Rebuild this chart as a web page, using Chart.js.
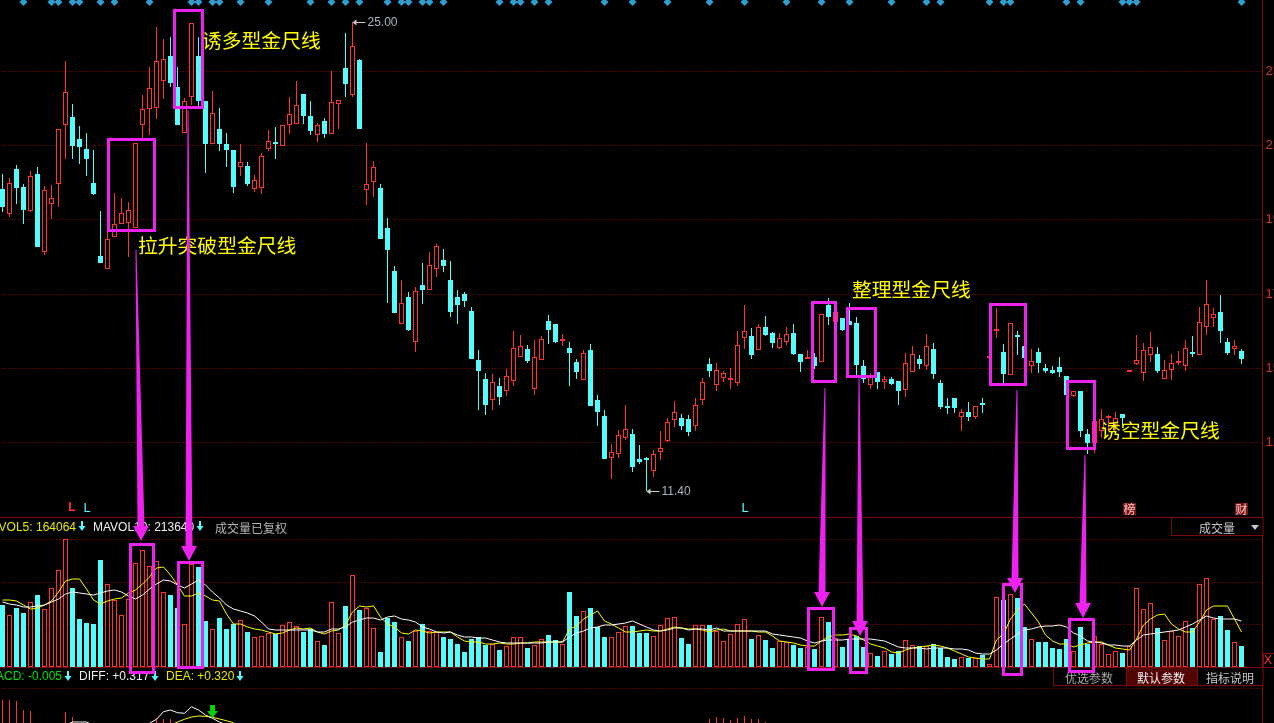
<!DOCTYPE html>
<html>
<head>
<meta charset="utf-8">
<title>金尺线</title>
<style>
  html, body { margin: 0; padding: 0; background: #000; overflow: hidden; }
  canvas { display: block; }
</style>
<script src="https://cdn.jsdelivr.net/npm/chart.js@4/dist/chart.umd.min.js"></script>
</head>
<body>
<canvas id="kline" width="1274" height="723"></canvas>
<script>
// daily prices
const highs = [
  20.59,20.48,20.86,20.30,20.68,20.80,20.25,20.28,21.90,23.87,
  22.62,21.99,21.78,21.29,19.52,18.97,20.04,19.90,19.78,21.49,
  22.89,23.70,24.86,24.51,24.57,23.70,22.80,24.97,24.57,22.71,
  23.00,22.51,21.78,21.29,21.46,20.94,20.57,21.20,21.87,21.96,
  22.02,22.83,23.29,22.91,22.71,22.07,22.22,23.58,22.74,24.68,
  25.00,23.93,21.49,20.97,20.30,19.32,17.93,17.52,17.17,17.32,
  18.01,18.33,18.56,18.42,18.07,17.23,17.17,16.74,15.49,14.82,
  14.79,14.68,14.94,16.04,15.93,15.64,15.78,15.90,16.51,16.24,
  15.95,15.72,15.23,15.49,15.66,14.19,13.75,12.76,13.17,13.90,
  13.20,12.74,12.39,12.59,13.14,13.52,14.01,13.63,13.61,14.10,
  14.68,15.26,15.11,14.88,14.97,16.04,16.80,16.13,16.24,16.48,
  16.01,15.98,16.16,16.24,15.37,15.49,15.40,16.53,17.00,16.59,
  16.42,16.85,16.45,15.20,14.82,14.85,14.74,14.71,14.59,15.40,
  15.61,15.35,15.95,15.69,14.62,14.10,14.10,13.78,13.98,13.87,
  14.10,15.29,16.71,15.66,16.27,16.04,15.61,15.52,15.55,15.08,
  15.03,15.29,14.74,14.30,14.30,13.20,13.43,13.78,13.61,13.69,
  13.63,14.88,15.93,15.69,16.01,15.58,15.20,15.37,15.46,15.78,
  15.90,16.74,17.52,16.71,17.09,15.84,15.78,15.52
];
const lows = [
  19.49,19.35,19.72,19.14,19.49,18.48,18.25,19.29,19.64,21.03,
  21.03,20.88,20.54,19.99,18.01,17.84,18.77,19.14,18.19,19.03,
  21.64,21.73,22.19,22.77,23.12,22.02,21.78,22.60,22.57,20.62,
  21.46,21.26,20.80,20.04,20.54,20.25,20.07,20.01,21.26,21.03,
  21.41,21.75,22.04,22.04,21.73,21.52,21.64,21.75,21.90,22.83,
  22.83,21.90,19.70,19.93,18.71,16.85,16.56,16.24,16.04,15.43,
  16.82,17.23,17.61,17.75,16.45,16.24,16.74,15.23,13.75,13.61,
  13.75,13.90,14.16,14.45,15.29,15.11,14.19,15.20,15.66,15.69,
  15.61,14.45,14.65,14.62,13.87,13.29,12.33,11.75,12.36,12.88,
  11.95,12.18,11.40,11.81,12.30,12.82,13.26,13.17,13.00,13.14,
  13.90,14.71,14.30,14.56,14.36,14.45,15.52,15.23,15.49,15.90,
  15.55,15.52,15.64,15.35,14.85,15.23,14.94,15.14,16.22,16.30,
  16.04,16.22,14.74,14.53,14.36,14.36,14.36,14.48,13.90,14.13,
  14.85,14.94,14.91,14.65,13.78,13.63,13.66,13.14,13.43,13.49,
  13.66,15.26,15.84,14.53,14.77,15.35,15.26,14.82,14.82,14.82,
  14.79,14.71,14.19,14.13,12.97,12.47,12.50,12.94,13.17,13.17,
  13.32,14.85,15.06,14.59,15.14,14.82,14.65,14.62,15.06,14.88,
  15.29,15.35,15.93,16.16,15.69,15.35,15.35,15.08
];
const opens = [
  20.16,19.43,20.74,20.22,19.52,20.59,18.33,19.72,20.30,22.02,
  22.25,21.61,21.32,20.33,18.22,17.84,18.77,19.14,19.17,19.03,
  22.02,22.48,22.51,23.29,24.02,23.12,21.78,22.83,24.02,22.71,
  21.46,21.90,21.46,21.29,20.80,20.83,20.16,20.19,21.32,21.52,
  21.41,22.02,22.04,22.91,22.28,21.73,22.13,21.75,22.62,23.67,
  22.89,23.90,20.13,20.36,20.19,19.03,17.78,16.24,17.03,15.72,
  17.38,17.23,17.84,18.10,17.52,17.03,17.11,16.62,15.20,14.65,
  14.04,14.45,14.30,14.59,15.29,15.52,14.36,15.20,16.33,16.24,
  15.75,15.55,15.14,14.62,15.49,14.04,13.58,12.36,12.47,12.94,
  13.05,12.33,12.33,11.98,12.53,12.85,13.46,13.52,13.49,13.29,
  14.04,15.08,14.48,14.68,14.62,14.53,15.84,15.90,15.49,16.16,
  15.98,15.55,15.72,15.98,15.37,15.23,15.29,15.14,16.80,16.30,
  16.42,16.33,16.27,15.03,14.48,14.85,14.56,14.65,14.59,14.33,
  14.85,15.23,15.03,15.52,14.53,13.84,14.10,13.55,13.69,13.55,
  13.92,15.26,16.04,15.43,14.77,15.93,15.61,15.03,15.43,14.97,
  14.91,15.00,14.74,14.16,14.30,13.05,12.79,13.14,13.52,13.32,
  13.63,14.85,15.08,14.82,15.35,15.37,14.65,14.91,15.11,15.03,
  15.40,15.35,16.16,16.42,16.59,15.72,15.52,15.46
];
const closes = [
  19.64,20.33,20.19,19.55,20.54,18.48,20.13,19.90,21.90,22.97,
  21.41,21.38,21.03,20.01,18.01,18.71,19.14,19.46,19.55,21.49,
  22.48,23.09,23.87,23.93,23.23,22.02,22.71,24.97,22.71,21.46,
  22.36,21.46,21.29,20.22,20.94,20.30,20.42,21.12,21.55,21.46,
  22.02,22.33,22.60,22.28,21.84,22.02,21.75,22.68,22.74,23.20,
  24.31,21.90,20.30,20.80,18.71,18.39,16.56,16.85,16.07,17.20,
  17.23,17.96,18.51,17.93,16.59,16.80,16.91,15.23,14.88,13.90,
  14.56,14.13,14.74,15.55,15.61,15.17,15.29,15.81,16.07,15.72,
  15.78,15.40,14.85,15.40,13.87,13.69,12.33,12.53,13.03,13.20,
  12.10,12.24,12.30,12.47,12.65,13.40,13.69,13.29,13.11,13.90,
  14.56,14.88,14.91,14.82,14.65,15.64,16.04,15.35,16.16,15.93,
  15.69,15.84,15.95,15.37,15.14,15.29,15.03,16.53,16.45,16.59,
  16.07,16.22,15.06,14.65,14.74,14.56,14.65,14.50,14.30,15.11,
  15.37,15.08,15.61,14.79,13.84,13.81,13.81,13.69,13.55,13.87,
  13.90,15.29,16.10,14.79,16.27,15.87,15.26,15.17,15.11,14.88,
  14.82,14.85,14.19,14.30,13.14,12.79,13.43,13.49,13.58,13.52,
  13.52,14.88,15.20,15.49,15.58,14.88,14.91,15.11,15.14,15.55,
  15.37,16.30,16.82,16.53,16.04,15.40,15.61,15.23
];

// volume, in thousands
const volumes = [
  289,245,278,252,303,336,273,369,454,602,
  369,224,205,200,500,388,313,242,318,486,
  550,472,496,350,336,275,200,482,468,214,
  177,228,177,200,219,163,139,144,158,153,
  196,210,191,163,177,121,103,303,159,286,
  431,267,277,183,70,230,211,141,122,169,
  202,169,164,141,131,108,70,131,141,103,
  108,80,98,141,141,89,103,131,150,127,
  108,352,239,263,277,188,141,141,164,192,
  192,159,159,145,197,230,235,136,108,197,
  197,197,169,122,155,202,225,131,150,127,
  89,122,117,103,89,94,84,235,211,136,
  94,131,145,94,66,52,75,61,75,127,
  103,98,98,108,89,47,38,47,42,42,
  56,14,328,314,342,324,188,131,117,117,
  89,84,131,75,188,108,145,108,61,75,
  66,98,371,272,300,183,127,169,145,216,
  183,389,417,225,239,174,117,98
];
const vol5 = [
  316,313,309,289,274,278,289,309,352,403,
  414,411,367,316,297,309,317,325,347,363,
  391,422,466,469,430,383,331,331,349,331,
  313,309,250,199,200,188,180,172,164,153,
  159,175,183,180,184,164,153,170,173,197,
  256,288,281,284,236,200,189,161,153,172,
  169,161,166,166,166,142,122,117,116,106,
  106,111,106,106,111,111,116,119,119,119,
  119,177,194,224,244,263,217,202,184,166,
  163,167,172,170,169,178,189,184,180,177,
  173,163,173,177,169,169,170,169,166,166,
  145,122,117,111,102,100,98,122,139,148,
  148,155,145,127,106,98,88,69,64,80,
  89,92,98,105,98,88,75,59,48,44,
  39,39,125,156,227,266,297,253,211,148,
  120,106,106,94,105,114,117,117,102,91,
  84,78,133,195,227,242,250,203,180,164,
  164,211,269,284,288,288,227,164
];
const vol10 = [
  305,297,289,281,281,284,289,305,320,341,
  350,347,341,338,349,355,361,352,333,320,
  336,367,388,410,403,383,372,391,410,383,
  352,324,289,274,263,253,241,211,180,175,
  175,175,175,175,172,164,164,177,177,189,
  211,219,228,228,219,233,238,225,219,209,
  189,177,163,159,163,148,139,139,138,134,
  127,117,113,111,111,111,111,111,119,119,
  119,142,158,167,181,189,195,195,200,205,
  214,200,189,172,170,173,181,181,173,177,
  177,173,181,170,169,167,167,167,170,167,
  155,148,144,139,134,122,111,122,125,125,
  127,130,130,130,130,125,120,108,92,91,
  91,91,83,88,88,88,83,83,78,67,
  59,59,78,109,133,156,172,180,188,191,
  192,198,188,159,144,120,116,113,105,102,
  98,98,125,148,156,159,164,169,175,188,
  200,219,238,231,227,225,225,214
];

// only the top of the macd pane is on screen
const macdIdx = [0,1,2,3,4,9,10,22,23,24,101,102,103,104,105,106,107,108,109];
const macdVal = [0.875,0.875,0.8625,0.75,0.7375,0.725,0.6625,0.65,0.6375,0.6375,0.6375,0.6625,0.65,0.625,0.65,0.675,0.6375,0.6375,0.60];
const diffIdx = [9,10,11,12,13,21,22,23,24,25,26,27,28,29,30,31,32];
const diffVal = [0.56,0.60,0.60,0.60,0.56,0.584,0.634,0.729,0.75,0.716,0.709,0.791,0.75,0.6875,0.646,0.60,0.5625];
const deaIdx = [24,25,26,27,28,29,30,31,32,33];
const deaVal = [0.56,0.60,0.634,0.6625,0.675,0.671,0.659,0.6375,0.616,0.591];

// the blue marks along the top edge
const topMarks = [3,7,8,10,11,14,16,21,27,28,30,31,34,38,44,47,49,51,55,57,58,60,61,63,71,73,74,76,78,86,90,95,101,106,112,117,121,127,132,134,141,143,144,152,154,160,161,162,177];

const priceTicks = [23.58,21.43,19.29,17.11,14.97,12.82];
const volTicks = [200,400,600];
const macdTicks = [1.025];

const RED = '#ff3232';
const CYAN = '#54fcfc';
const GRID = '#960a0a';
const MAGENTA = '#ee22ee';

// 178 days and 3 empty slots up to the axis
const categories = [];
for (let i = 0; i < 181; i++) categories.push(String(i));

function sparse(idx, val) {
  const out = categories.map(() => null);
  idx.forEach((k, j) => { out[k] = val[j]; });
  return out;
}

const isUp = i => closes[i] >= opens[i];
const upColor = ctx => isUp(ctx.dataIndex) ? RED : CYAN;
const bodyFill = ctx => isUp(ctx.dataIndex) ? '#000' : CYAN;

function fixedTicks(values) {
  return scale => { scale.ticks = values.map(v => ({ value: v })); };
}

// the axes overlap in one narrow strip, and must not shrink the plot
function fitAxis(width) {
  return scale => {
    scale.width = width;
    scale.paddingTop = 0;
    scale.paddingBottom = 0;
    scale.paddingLeft = 0;
    scale.paddingRight = 0;
  };
}

const frames = [
  [108.5,139.5,46,91],[174.5,10.5,28,97],[812.5,302.5,23,79],[847.5,308.5,28,68],
  [990.5,304.5,35,80],[1067.5,381.5,27,67],
  [130.5,544.5,23,128],[178.5,562.5,24,105],[808.5,608.5,25,61],[850.5,628.5,16,44],
  [1003.5,584.5,18,90],[1069.5,619.5,24,52]
];
// top x, top y, tip x, tip y
const pointers = [
  [136,250,141,541],[188,110,189,561],[825,388,822,607],
  [859,378,860,636],[1017,390,1015,593],[1085,455,1083,618]
];
const notes = [
  ['诱多型金尺线',202,40],['拉升突破型金尺线',138,245],
  ['整理型金尺线',852,289],['诱空型金尺线',1101,430]
];

function text(ctx, str, x, y, color, font, align) {
  ctx.fillStyle = color;
  ctx.font = font;
  ctx.textAlign = align || 'left';
  ctx.textBaseline = 'middle';
  ctx.fillText(str, x, y);
}

function smallArrow(ctx, x, y, color) {
  ctx.fillStyle = color;
  ctx.fillRect(x - 1, y - 5, 2, 6);
  ctx.beginPath();
  ctx.moveTo(x - 3.5, y);
  ctx.lineTo(x + 3.5, y);
  ctx.lineTo(x, y + 5);
  ctx.fill();
}

function priceFlag(chart, day, value, label) {
  const ctx = chart.ctx;
  const x = chart.scales.x.getPixelForValue(day);
  const y = chart.scales.y.getPixelForValue(value);
  ctx.strokeStyle = '#c8c8c8';
  ctx.fillStyle = '#c8c8c8';
  ctx.lineWidth = 1;
  ctx.beginPath();
  ctx.moveTo(x + 1, y + 0.5);
  ctx.lineTo(x + 13, y + 0.5);
  ctx.stroke();
  ctx.beginPath();
  ctx.moveTo(x, y + 0.5);
  ctx.lineTo(x + 4, y - 2.5);
  ctx.lineTo(x + 4, y + 3.5);
  ctx.fill();
  text(ctx, label, x + 15, y + 1, '#a9b4bf', '12px "Liberation Sans"');
}

const panelLines = {
  id: 'panelLines',
  beforeDatasetsDraw(chart) {
    const ctx = chart.ctx;
    ctx.save();
    ctx.fillStyle = '#6e0c0c';
    ctx.fillRect(0, 517, 1263, 1);
    ctx.fillRect(0, 667, 1263, 1);
    ctx.restore();
  }
};

const overlay = {
  id: 'overlay',
  afterDraw(chart) {
    const ctx = chart.ctx;
    const sans = '12px "Liberation Sans"';
    const cjk = '12px "Noto Sans CJK SC"';
    ctx.save();

    priceFlag(chart, 50, 25.00, '25.00');
    priceFlag(chart, 92, 11.40, '11.40');

    notes.forEach(n => text(ctx, n[0], n[1], n[2], '#ffff00', '19.8px "Noto Sans CJK SC"'));

    // event letters above the volume pane
    text(ctx, 'L', 72, 508, RED, 'bold 12px "Liberation Sans"', 'center');
    text(ctx, 'L', 87, 508, CYAN, '13px "Liberation Sans"', 'center');
    text(ctx, 'L', 745, 508, CYAN, '13px "Liberation Sans"', 'center');
    ctx.fillStyle = '#7a1515';
    ctx.fillRect(1123, 503, 13, 12);
    ctx.fillRect(1235, 503, 13, 12);
    text(ctx, '榜', 1129.5, 509, '#ffc8c8', '12px "Noto Sans CJK SC"', 'center');
    text(ctx, '财', 1241.5, 509, '#ffc8c8', '12px "Noto Sans CJK SC"', 'center');

    // volume legend
    text(ctx, 'VOL5: 164064', 76, 528, '#e8e800', sans, 'right');
    smallArrow(ctx, 82, 526, CYAN);
    text(ctx, 'MAVOL10: 213640', 93, 528, '#f0f0f0', sans);
    smallArrow(ctx, 200, 526, CYAN);
    text(ctx, '成交量已复权', 215, 528, '#b4b4b4', cjk);

    // macd legend
    text(ctx, 'MACD: -0.005', 62, 677, '#00e000', sans, 'right');
    smallArrow(ctx, 68, 676, CYAN);
    text(ctx, 'DIFF: +0.317', 79, 677, '#f0f0f0', sans);
    smallArrow(ctx, 155, 676, CYAN);
    text(ctx, 'DEA: +0.320', 166, 677, '#e8e800', sans);
    smallArrow(ctx, 240, 676, CYAN);

    // green signal
    ctx.fillStyle = '#00d000';
    ctx.fillRect(210, 705, 5, 6);
    ctx.beginPath();
    ctx.moveTo(207, 711);
    ctx.lineTo(218, 711);
    ctx.lineTo(212.5, 718);
    ctx.fill();

    // indicator selector
    ctx.fillStyle = '#000';
    ctx.fillRect(1172, 518, 91, 18);
    ctx.strokeStyle = '#7c0a0a';
    ctx.lineWidth = 1;
    ctx.strokeRect(1171.5, 517.5, 91.5, 18);
    text(ctx, '成交量', 1217, 528, '#c8c8c8', cjk, 'center');
    ctx.fillStyle = '#c8c8c8';
    ctx.beginPath();
    ctx.moveTo(1251, 525);
    ctx.lineTo(1259, 525);
    ctx.lineTo(1255, 530);
    ctx.fill();

    // parameter buttons
    ctx.fillStyle = '#000';
    ctx.fillRect(1053, 668, 210, 18);
    ctx.fillStyle = '#500404';
    ctx.fillRect(1126, 668, 71, 18);
    ctx.strokeRect(1053.5, 667.5, 209.5, 18);
    ctx.strokeRect(1126.5, 667.5, 71, 18);
    text(ctx, '优选参数', 1089, 678, '#a8a8a8', cjk, 'center');
    text(ctx, '默认参数', 1161, 678, '#f0f0f0', cjk, 'center');
    text(ctx, '指标说明', 1230, 678, '#c8c8c8', cjk, 'center');

    // pane close box
    ctx.fillStyle = '#000';
    ctx.fillRect(1264, 653, 10, 14);
    ctx.strokeRect(1263.5, 653.5, 12, 14);
    text(ctx, 'X', 1268, 661, RED, sans, 'center');

    // pointers from the candles to the volume bars, over everything else
    ctx.fillStyle = MAGENTA;
    pointers.forEach(p => {
      const [x0, y0, x1, y1] = p;
      const neck = y1 - 15;
      ctx.beginPath();
      ctx.moveTo(x0 - 0.5, y0);
      ctx.lineTo(x0 + 0.5, y0);
      ctx.lineTo(x1 + 3.5, neck);
      ctx.lineTo(x1 + 8, neck);
      ctx.lineTo(x1, y1);
      ctx.lineTo(x1 - 8, neck);
      ctx.lineTo(x1 - 3.5, neck);
      ctx.closePath();
      ctx.fill();
    });
    ctx.strokeStyle = MAGENTA;
    ctx.lineWidth = 3;
    frames.forEach(f => ctx.strokeRect(f[0], f[1], f[2], f[3]));

    ctx.restore();
  }
};

new Chart(document.getElementById('kline'), {
  type: 'bar',
  data: {
    labels: categories,
    datasets: [
      {
        label: 'range',
        data: highs.map((h, i) => [lows[i], h]),
        yAxisID: 'y',
        grouped: false,
        clip: false,
        barThickness: 1,
        inflateAmount: 0,
        backgroundColor: upColor,
        order: 6
      },
      {
        label: 'body',
        data: opens.map((o, i) => [o, closes[i]]),
        yAxisID: 'y',
        grouped: false,
        clip: false,
        barThickness: 5,
        inflateAmount: 0,
        minBarLength: 2,
        backgroundColor: bodyFill,
        borderColor: upColor,
        borderWidth: 1,
        borderSkipped: false,
        order: 5
      },
      {
        label: 'volume',
        data: volumes,
        yAxisID: 'yVol',
        grouped: false,
        clip: false,
        barThickness: 5,
        inflateAmount: 0,
        backgroundColor: bodyFill,
        borderColor: upColor,
        borderWidth: 1,
        borderSkipped: false,
        order: 4
      },
      {
        label: 'VOL5',
        type: 'line',
        data: vol5,
        yAxisID: 'yVol',
        borderColor: '#ffff00',
        borderWidth: 1,
        pointRadius: 0,
        order: 3
      },
      {
        label: 'MAVOL10',
        type: 'line',
        data: vol10,
        yAxisID: 'yVol',
        borderColor: '#ffffff',
        borderWidth: 1,
        pointRadius: 0,
        order: 2
      },
      {
        label: 'MACD',
        data: sparse(macdIdx, macdVal),
        yAxisID: 'yMacd',
        grouped: false,
        clip: false,
        barThickness: 1,
        inflateAmount: 0,
        backgroundColor: RED,
        order: 4
      },
      {
        label: 'DIFF',
        type: 'line',
        data: sparse(diffIdx, diffVal),
        yAxisID: 'yMacd',
        borderColor: '#ffffff',
        borderWidth: 1,
        pointRadius: 0,
        order: 2
      },
      {
        label: 'DEA',
        type: 'line',
        data: sparse(deaIdx, deaVal),
        yAxisID: 'yMacd',
        borderColor: '#ffff00',
        borderWidth: 1,
        pointRadius: 0,
        order: 2
      },
      {
        label: 'marks',
        type: 'line',
        data: sparse(topMarks, topMarks.map(() => 25.58)),
        yAxisID: 'y',
        showLine: false,
        clip: false,
        pointStyle: 'rectRot',
        pointRadius: 4,
        pointBackgroundColor: '#2f9ed0',
        pointBorderWidth: 0,
        order: 1
      }
    ]
  },
  plugins: [panelLines, overlay],
  options: {
    responsive: false,
    animation: false,
    devicePixelRatio: 1,
    layout: { autoPadding: false, padding: { left: 2.5, right: 0, top: 0, bottom: 0 } },
    plugins: { legend: { display: false }, tooltip: { enabled: false } },
    scales: {
      x: { display: false, offset: false, grid: { offset: false } },
      y: {
        position: 'right',
        min: 4.673,
        max: 25.64,
        alignToPixels: true,
        afterBuildTicks: fixedTicks(priceTicks),
        afterFit: fitAxis(11.5),
        ticks: { color: '#d83030', font: { size: 13, family: 'Liberation Sans' }, padding: 3, autoSkip: false },
        grid: { color: GRID, drawTicks: false },
        border: { color: '#7c0a0a', dash: [1, 2] }
      },
      yVol: {
        position: 'right',
        min: -263,
        max: 3128,
        alignToPixels: true,
        afterBuildTicks: fixedTicks(volTicks),
        afterFit: fitAxis(0),
        ticks: { color: '#d83030', font: { size: 13, family: 'Liberation Sans' }, padding: 3, autoSkip: false, callback: v => String(v * 1000) },
        grid: { color: GRID, drawTicks: false },
        border: { display: false, dash: [1, 2] }
      },
      yMacd: {
        position: 'right',
        min: 0.5875,
        max: 9.625,
        afterBuildTicks: fixedTicks(macdTicks),
        afterFit: fitAxis(0),
        ticks: { color: '#d83030', font: { size: 13, family: 'Liberation Sans' }, padding: 3, autoSkip: false, callback: v => '+' + v.toFixed(3) },
        grid: { color: GRID, drawTicks: false },
        border: { display: false, dash: [1, 2] }
      }
    }
  }
});
</script>
</body>
</html>
